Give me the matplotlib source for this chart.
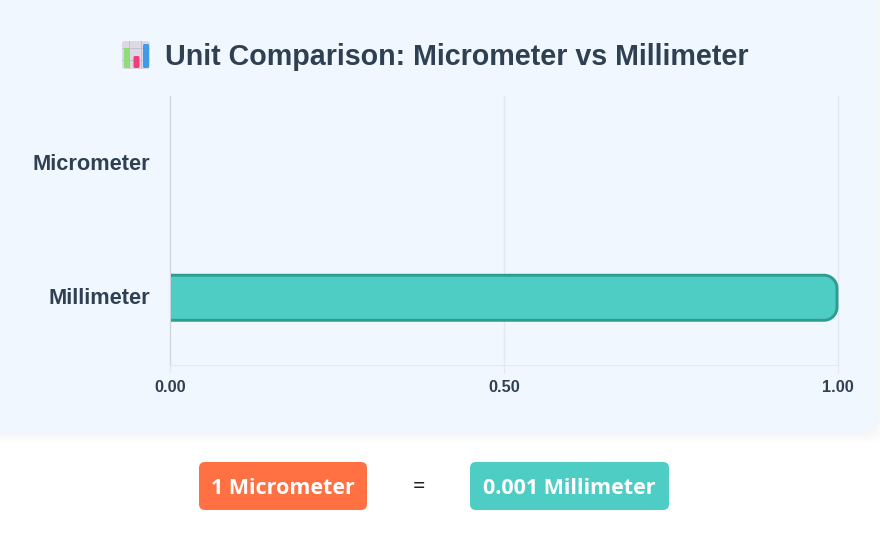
import matplotlib
matplotlib.use("Agg")
import matplotlib.pyplot as plt
from matplotlib.patches import FancyBboxPatch, PathPatch, Rectangle
from matplotlib.path import Path
from matplotlib.transforms import ScaledTranslation

categories = ["Micrometer", "Millimeter"]
values = [0.001, 1.0]
x_ticks = [0.0, 0.5, 1.0]
x_tick_labels = ["0.00", "0.50", "1.00"]
title = "Unit Comparison: Micrometer vs Millimeter"
pill_left = "1 Micrometer"
pill_right = "0.001 Millimeter"

W, H = 880, 540
TEXT = "#2f4053"
TEAL = "#4ecdc4"
EDGE = "#2f9c90"
CORAL = "#ff7043"
PANEL = "#f0f7ff"
GRID = "#e4e8f0"

plt.rcParams["font.family"] = ["Liberation Sans", "DejaVu Sans"]
fig = plt.figure(figsize=(W / 100, H / 100), dpi=100, facecolor="white")

bg = fig.add_axes([0, 0, 1, 1], zorder=0)
bg.set_xlim(0, W)
bg.set_ylim(H, 0)
bg.axis("off")

# soft shadow below the panel
for i in range(1, 11):
    bg.add_patch(FancyBboxPatch((-40 - i, -40), 917 + 2 * i, 473 + i,
                                boxstyle="round,pad=0,rounding_size=18",
                                fc="#90a0b8", ec="none", alpha=0.008))
bg.add_patch(FancyBboxPatch((-40, -40), 917, 473,
                            boxstyle="round,pad=0,rounding_size=18",
                            fc=PANEL, ec="none"))

# bar-chart icon beside the title
bg.add_patch(FancyBboxPatch((122, 41), 28, 28, boxstyle="round,pad=0,rounding_size=3",
                            fc="#dcd8e6", ec="none"))
for x in (129, 141):
    bg.add_patch(Rectangle((x, 41), 1, 28, fc="#c4c0d0", ec="none"))
for y in (48, 60):
    bg.add_patch(Rectangle((122, y), 28, 1, fc="#c4c0d0", ec="none"))
for x, top, col in [(124, 48, "#8fdc7a"), (133.5, 56, "#ee3f78"), (143, 44, "#3f9be8")]:
    bg.add_patch(FancyBboxPatch((x, top), 6, 68 - top, boxstyle="round,pad=0,rounding_size=1.5",
                                fc=col, ec="none"))

bg.text(165, 57, title, fontsize=20.6, fontweight="bold", color=TEXT,
        ha="left", va="center")

# pills
bg.add_patch(FancyBboxPatch((199, 462), 168, 48, boxstyle="round,pad=0,rounding_size=6",
                            fc=CORAL, ec="none"))
bg.add_patch(FancyBboxPatch((470, 462), 199, 48, boxstyle="round,pad=0,rounding_size=6",
                            fc=TEAL, ec="none"))
bg.text(283, 489, pill_left, fontsize=15.5, fontweight="bold", color="white",
        family="Open Sans", ha="center", va="center")
bg.text(569.5, 489, pill_right, fontsize=15.5, fontweight="bold", color="white",
        family="Open Sans", ha="center", va="center")
bg.text(418.5, 488, "=", fontsize=15.5, color="#222222", family="Open Sans",
        ha="center", va="center")

# chart
L, R, T, B = 170, 838, 96, 365
ax = fig.add_axes([L / W, 1 - B / H, (R - L) / W, (B - T) / H], zorder=1)
ax.patch.set_alpha(0)
ax.set_xlim(0, 1)
ax.set_ylim(1.5, -0.5)
ax.set_yticks(range(len(categories)), categories)
ax.set_xticks(x_ticks, x_tick_labels)
ax.grid(axis="x", color=GRID, linewidth=1)
for g in ax.get_xgridlines():
    g.set_clip_on(False)
ax.set_axisbelow(True)
for s in ["top", "right"]:
    ax.spines[s].set_visible(False)
ax.spines["left"].set_color("#d0d4e0")
ax.spines["bottom"].set_color(GRID)
ax.tick_params(axis="x", length=6, color=GRID, pad=4.5, labelsize=11.8, labelcolor=TEXT)
ax.tick_params(axis="y", length=0, pad=14, labelsize=15.7, labelcolor=TEXT)
for lab in ax.get_xticklabels() + ax.get_yticklabels():
    lab.set_fontweight("bold")
shift = ScaledTranslation(0, 1.5 / 100, fig.dpi_scale_trans)
for lab in ax.get_yticklabels():
    lab.set_verticalalignment("center_baseline")
    lab.set_transform(lab.get_transform() + shift)

BAR_H = 0.335
px = 1 / (R - L)
rx = 13 * px
ry = 13 / ((B - T) / 2)
K = 0.45
for i, v in enumerate(values):
    if v < 0.01:
        continue
    e = v - px  # stroke sits inside the bar end
    y0, y1 = i - BAR_H / 2, i + BAR_H / 2
    verts = [(-0.01, y0), (e - rx, y0), (e - rx * K, y0), (e, y0 + ry * K), (e, y0 + ry),
             (e, y1 - ry), (e, y1 - ry * K), (e - rx * K, y1), (e - rx, y1), (-0.01, y1), (-0.01, y0)]
    codes = [Path.MOVETO, Path.LINETO, Path.CURVE4, Path.CURVE4, Path.CURVE4,
             Path.LINETO, Path.CURVE4, Path.CURVE4, Path.CURVE4, Path.LINETO, Path.CLOSEPOLY]
    bar = PathPatch(Path(verts, codes), fc=TEAL, ec=EDGE, lw=2.1, zorder=3)
    ax.add_patch(bar)
    bar.set_clip_path(Rectangle((1.2 * px, 0), 1, 1, transform=ax.transAxes))

fig.savefig("out.png", dpi=100, facecolor="white")
